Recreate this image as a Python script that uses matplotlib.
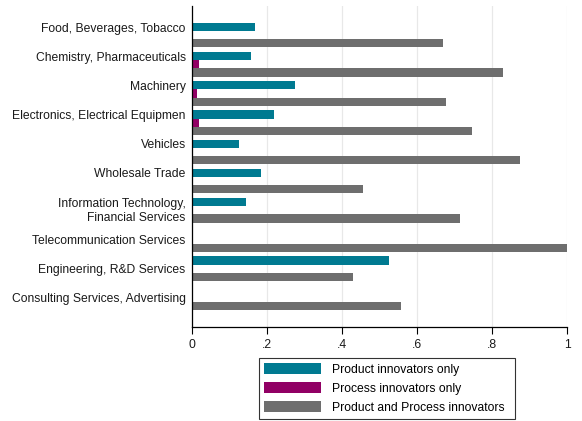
import numpy as np
import matplotlib
matplotlib.use("Agg")
import matplotlib.pyplot as plt

categories = [
    "Food, Beverages, Tobacco",
    "Chemistry, Pharmaceuticals",
    "Machinery",
    "Electronics, Electrical Equipmen",
    "Vehicles",
    "Wholesale Trade",
    "Information Technology,\nFinancial Services",
    "Telecommunication Services",
    "Engineering, R&D Services",
    "Consulting Services, Advertising",
]
product_only = [0.167, 0.157, 0.274, 0.219, 0.125, 0.184, 0.143, 0.0, 0.525, 0.0]
process_only = [0.0, 0.018, 0.0125, 0.019, 0.0, 0.0, 0.0, 0.0, 0.0, 0.0]
both = [0.668, 0.829, 0.677, 0.747, 0.875, 0.456, 0.715, 1.0, 0.429, 0.558]
series_names = ["Product innovators only", "Process innovators only",
                "Product and Process innovators"]
colors = ["#007A91", "#910064", "#6E6E6E"]

plt.rcParams["font.family"] = ["Liberation Sans", "DejaVu Sans"]
fs = 8.7

fig = plt.figure(figsize=(5.82, 4.21), dpi=100)
ax = fig.add_axes([192 / 582, 1 - 327 / 421, (567 - 192) / 582, (327 - 6) / 421])

y = np.arange(len(categories))
h = 0.28
for k, (vals, col, name) in enumerate(zip([product_only, process_only, both], colors, series_names)):
    ax.barh(y + (k - 1) * h, vals, height=h, color=col, label=name,
            linewidth=0, zorder=3)

ax.set_xlim(0, 1)
ax.set_ylim(10.0, -1.0)

# label positions as in the original
offs = [-h] * 6 + [-0.06] + [0.0] * 3
ax.set_yticks(y + np.array(offs))
ax.set_yticklabels(categories, fontsize=fs, multialignment="right", color="#1a1a1a")
ax.tick_params(axis="y", length=0, pad=4.5)

ax.set_xticks([0, 0.2, 0.4, 0.6, 0.8, 1.0])
ax.set_xticklabels(["0", ".2", ".4", ".6", ".8", "1"], fontsize=fs, color="#1a1a1a")
ax.tick_params(axis="x", length=5, width=0.8, pad=4)
ax.grid(axis="x", color="#e8e8e8", linewidth=0.9, zorder=0)

for s in ["top", "right"]:
    ax.spines[s].set_visible(False)
ax.spines["left"].set_linewidth(0.9)
ax.spines["bottom"].set_linewidth(0.9)
ax.spines["left"].set_zorder(4)

leg = fig.legend(loc="lower left", bbox_to_anchor=(259 / 582, 2 / 421, 256 / 582, 61 / 421),
                 mode="expand", ncol=1, fontsize=fs, frameon=True, fancybox=False,
                 handlelength=4.7, handleheight=1.08, handletextpad=0.85,
                 borderpad=0.45, labelspacing=0.5, borderaxespad=0)
leg.get_frame().set_edgecolor("black")
leg.get_frame().set_linewidth(0.8)

fig.savefig("out.png", dpi=100)
